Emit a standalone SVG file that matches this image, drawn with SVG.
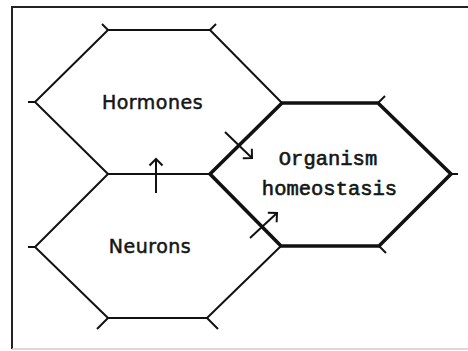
<svg xmlns="http://www.w3.org/2000/svg" width="468" height="351" viewBox="0 0 468 351">
<defs>
<style>
.thin{fill:none;stroke:#111;stroke-width:2;stroke-linejoin:miter;stroke-linecap:butt}
.thick{fill:none;stroke:#111;stroke-width:3.6;stroke-linejoin:miter}
.tick{fill:none;stroke:#111;stroke-width:2}
.arr{fill:none;stroke:#111;stroke-width:2}
.lbl{font-family:"DejaVu Sans","Liberation Sans",sans-serif;font-size:19px;letter-spacing:0.5px;fill:#151515;stroke:#151515;stroke-width:0.5px;text-anchor:middle}
.mono{font-family:"Liberation Mono","DejaVu Sans Mono",monospace;font-size:20.5px;fill:#151515;stroke:#151515;stroke-width:0.6px;text-anchor:middle}
</style>
<marker id="ah" markerUnits="userSpaceOnUse" viewBox="-8 -8 10 16" refX="0" refY="0" markerWidth="10" markerHeight="16" orient="auto" overflow="visible">
<path d="M-6.5,-6.5 L0,0 L-6.5,6.5" fill="none" stroke="#111" stroke-width="2"/>
</marker>
</defs>
<rect width="468" height="351" fill="#fff"/>
<g id="frame">
<line x1="12" y1="7" x2="468" y2="7" stroke="#222" stroke-width="2"/>
<line x1="12" y1="6" x2="12" y2="349" stroke="#222" stroke-width="2"/>
<line x1="12" y1="349" x2="468" y2="349" stroke="#ccc" stroke-width="1.5"/>
</g>
<g id="hormones">
<path class="thin" d="M282,103 L210,30 L108,30 L35,102 L108,174 L210,174"/>
<line class="tick" x1="108" y1="30" x2="102" y2="24"/>
<line class="tick" x1="210" y1="30" x2="216" y2="24"/>
<line class="tick" x1="35" y1="102" x2="28" y2="102"/>
<text class="lbl" x="152.5" y="109">Hormones</text>
</g>
<g id="neurons">
<path class="thin" d="M108,174 L35,247 L108,318 L207,318 L281,246"/>
<line class="tick" x1="35" y1="247" x2="28" y2="247"/>
<line class="tick" x1="108" y1="318" x2="97" y2="329"/>
<line class="tick" x1="207" y1="318" x2="218" y2="329"/>
<text class="lbl" x="150" y="253">Neurons</text>
</g>
<g id="organism">
<path class="thick" d="M210,174 L282,103 L378,103 L451,174 L379,246 L281,246 Z"/>
<line class="tick" x1="378" y1="103" x2="385" y2="96"/>
<line class="tick" x1="451" y1="174" x2="458" y2="174"/>
<line class="tick" x1="379" y1="246" x2="386" y2="253"/>
<text class="mono" x="328" y="165">Organism</text>
<text class="mono" x="329.5" y="195">homeostasis</text>
</g>
<g id="connectors">
<line class="arr" x1="225" y1="132" x2="252" y2="158" marker-end="url(#ah)"/>
<line class="arr" x1="250" y1="238" x2="277" y2="213" marker-end="url(#ah)"/>
<line class="arr" x1="156" y1="193" x2="156" y2="159" marker-end="url(#ah)"/>
</g>
</svg>
